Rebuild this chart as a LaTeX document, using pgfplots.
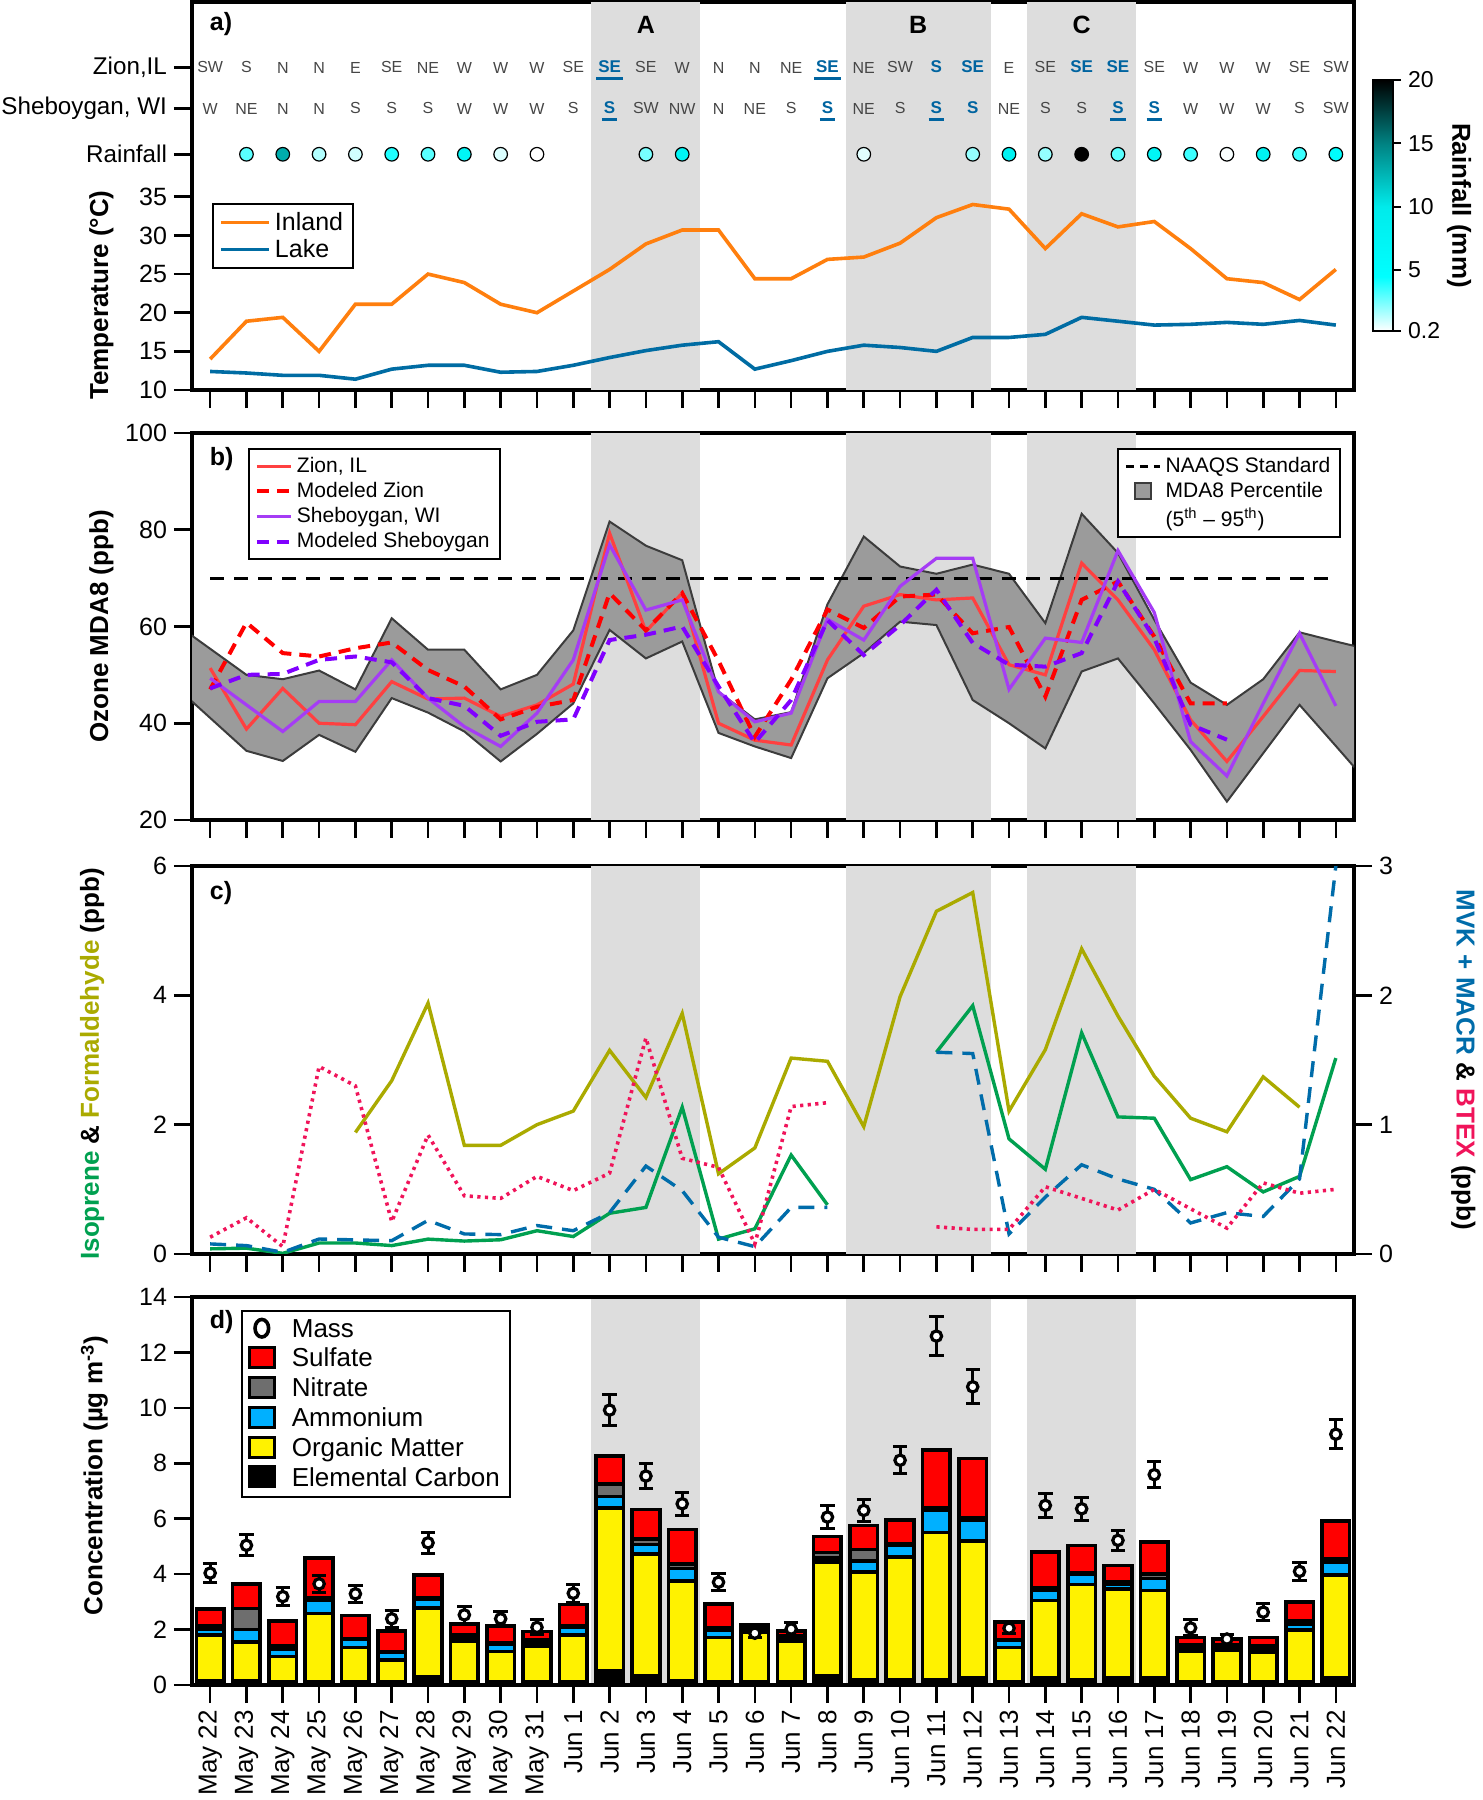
\documentclass[border=0pt]{standalone}
\usepackage{fontspec}
\setmainfont{Liberation Sans}
\usepackage{pgfplots}
\usepackage{pgfplotstable}
\pgfplotsset{compat=1.18}

\definecolor{shadecol}{RGB}{221,221,221}
\definecolor{inland}{RGB}{255,127,14}
\definecolor{lake}{RGB}{0,108,163}
\definecolor{zion}{RGB}{255,64,64}
\definecolor{mzion}{RGB}{255,0,0}
\definecolor{sheb}{RGB}{165,60,245}
\definecolor{msheb}{RGB}{128,0,255}
\definecolor{form}{RGB}{170,170,0}
\definecolor{iso}{RGB}{0,160,80}
\definecolor{mvk}{RGB}{0,108,170}
\definecolor{btex}{RGB}{240,20,90}
\definecolor{windgray}{RGB}{70,70,70}
\definecolor{windblue}{RGB}{0,100,160}
\definecolor{band}{RGB}{155,155,155}
\definecolor{bandedge}{RGB}{60,60,60}
\definecolor{amm}{RGB}{0,176,255}
\definecolor{nit}{RGB}{110,110,110}

\newsavebox\windbox
\NewDocumentCommand\windul{m}{\sbox\windbox{\bfseries #1}\rlap{\kern-1pt\raisebox{-3.4pt}[0pt][0pt]{\rule{\dimexpr\wd\windbox+2pt\relax}{1.3pt}}}\usebox\windbox}
\NewDocumentCommand\windb{m}{\textbf{#1}}

\pgfplotsset{
  panel/.style={
    scale only axis, width=581pt, height=194pt,
    xmin=-0.5, xmax=31.5, xtick={0,...,31}, xticklabels={},
    tick pos=left, tick align=outside, major tick length=9pt,
    tick style={line width=1.3pt, black},
    axis line style={line width=1.8pt},
    tick label style={font=\fontsize{12.5}{14}\selectfont},
    /pgf/number format/assume math mode=true,
    label style={font=\bfseries\fontsize{13}{15}\selectfont},
  },
  sqlegend/.style={legend image code/.code={\draw[##1] (0.3cm,-0.15cm) rectangle (0.74cm,0.2cm);}},
  masslegend/.style={legend image code/.code={\draw[black, line width=1.8pt] (0.52cm,0.025cm) ellipse (3.4pt and 4.4pt);}},
  longline/.style={legend image code/.code={\draw[##1] (0cm,0cm) -- (0.85cm,0cm);}},
  windnormal/.style={only marks, mark=none, forget plot, nodes near coords, point meta=explicit symbolic,
    every node near coord/.append style={font=\fontsize{8}{9}\selectfont, text=windgray, inner sep=0pt}},
  windhigh/.style={only marks, mark=none, forget plot, nodes near coords, point meta=explicit symbolic,
    every node near coord/.append style={font=\bfseries\fontsize{8.5}{9}\selectfont, text=windblue, inner sep=0pt}},
}

\pgfplotstableread{
x ec om amm nit sul
0 .15 1.65 .23 .10 .62
1 .15 1.40 .46 .75 .89
2 .12 .91 .28 .10 .89
3 .12 2.46 .48 .10 1.43
4 .12 1.23 .29 .04 .83
5 .12 .79 .28 .01 .74
6 .28 2.50 .31 .07 .80
7 .12 1.46 .12 .10 .40
8 .12 1.09 .28 .04 .59
9 .12 1.28 .12 .10 .31
10 .12 1.68 .29 .04 .77
11 .50 5.88 .42 .45 1.02
12 .33 4.39 .35 .20 1.06
13 .15 3.60 .45 .16 1.25
14 .12 1.60 .25 .10 .86
15 .12 1.80 .10 .10 .05
16 .12 1.46 .10 .10 .18
17 .35 4.08 .15 .20 .58
18 .20 3.87 .40 .42 .87
19 .20 4.42 .43 .04 .87
20 .20 5.30 .81 .10 2.06
21 .25 4.95 .75 .10 2.12
22 .12 1.24 .25 .02 .64
23 .25 2.80 .37 .10 1.28
24 .20 3.42 .37 .05 1.00
25 .25 3.22 .15 .12 .57
26 .25 3.16 .43 .16 1.16
27 .12 1.10 .12 .10 .28
28 .12 1.14 .10 .10 .20
29 .12 1.08 .12 .10 .30
30 .12 1.86 .23 .11 .67
31 .25 3.73 .46 .13 1.35
}\pmdata

\pgfplotstableread{
x m e
0 4.04 .33
1 5.04 .38
2 3.19 .32
3 3.65 .30
4 3.29 .30
5 2.39 .30
6 5.13 .37
7 2.53 .30
8 2.39 .27
9 2.08 .27
10 3.31 .32
11 9.92 .55
12 7.54 .46
13 6.54 .42
14 3.71 .31
15 1.87 .15
16 2.02 .25
17 6.06 .41
18 6.30 .41
19 8.11 .49
20 12.59 .69
21 10.76 .61
22 2.05 .20
23 6.48 .43
24 6.36 .41
25 5.22 .37
26 7.59 .46
27 2.06 .29
28 1.66 .18
29 2.63 .30
30 4.10 .33
31 9.05 .52
}\massdata

\begin{document}
\begin{tikzpicture}
\useasboundingbox (0,0) rectangle (741.5pt,-900pt);

% ---------------- Panel a ----------------
\begin{axis}[panel, at={(96pt,-1pt)}, anchor=north west, height=194pt,
  ymin=10, ymax=60.2, ytick={10,15,20,25,30,35},
  extra y ticks={40.5,46.4,51.7},
  extra y tick labels={Rainfall,{Sheboygan, WI},{Zion,IL}},
  extra y tick style={tick label style={font=\fontsize{12.1}{13}\selectfont}},
  ylabel={Temperature (°C)},
  ylabel style={at={(axis description cs:-0.078,0.245)}, anchor=center},
  colormap={rain}{rgb255(0pt)=(255,255,255) rgb255(43pt)=(0,255,255) rgb255(98pt)=(0,235,235) rgb255(148pt)=(0,130,130) rgb255(198pt)=(0,0,0)},
  point meta min=0.2, point meta max=20,
  colorbar,
  colorbar style={at={(parent axis.north east)}, anchor=north west, xshift=1pt, yshift=-39pt,
    width=10pt, height=125.5pt, ytick={0.2,5,10,15,20}, yticklabels={0.2,5,10,15,20},
    ytick pos=right, tick align=outside, major tick length=4pt,
    tick style={line width=1pt, black}, axis line style={line width=1pt},
    tick label style={font=\fontsize{11.5}{13}\selectfont},
    /pgf/number format/assume math mode=true,
    ylabel={Rainfall (mm)},
    ylabel style={at={(axis description cs:4.3,0.5)}, anchor=center, rotate=180, font=\bfseries\fontsize{13}{15}\selectfont}},
  legend cell align=left,
  legend style={at={(0.0172,0.482)}, anchor=north west, draw=black, line width=1pt, font=\fontsize{12.5}{14}\selectfont, row sep=-1pt},
]
\fill[shadecol] (axis cs:10.5,10) rectangle (axis cs:13.5,60.2);
\fill[shadecol] (axis cs:17.5,10) rectangle (axis cs:21.5,60.2);
\fill[shadecol] (axis cs:22.5,10) rectangle (axis cs:25.5,60.2);
\node[font=\bfseries\fontsize{12.5}{14}\selectfont] at (axis cs:12,57.3) {A};
\node[font=\bfseries\fontsize{12.5}{14}\selectfont] at (axis cs:19.5,57.3) {B};
\node[font=\bfseries\fontsize{12.5}{14}\selectfont] at (axis cs:24,57.3) {C};
\node[font=\bfseries\fontsize{12.5}{14}\selectfont, anchor=west] at (axis cs:-0.2,57.3) {a)};

\addplot[inland, line width=1.8pt, longline] coordinates {
(0,14.0)(1,18.9)(2,19.4)(3,15.0)(4,21.1)(5,21.1)(6,25.0)(7,23.9)(8,21.1)(9,20.0)(10,22.8)(11,25.6)(12,28.9)(13,30.7)(14,30.7)(15,24.4)(16,24.4)(17,26.9)(18,27.2)(19,29.0)(20,32.3)(21,34.0)(22,33.4)(23,28.3)(24,32.8)(25,31.1)(26,31.8)(27,28.3)(28,24.4)(29,23.9)(30,21.7)(31,25.6)};
\addlegendentry{Inland}
\addplot[lake, line width=1.8pt, longline] coordinates {
(0,12.4)(1,12.2)(2,11.9)(3,11.9)(4,11.4)(5,12.7)(6,13.2)(7,13.2)(8,12.3)(9,12.4)(10,13.2)(11,14.2)(12,15.1)(13,15.8)(14,16.25)(15,12.7)(16,13.8)(17,15.0)(18,15.8)(19,15.5)(20,15.0)(21,16.8)(22,16.8)(23,17.2)(24,19.4)(25,18.9)(26,18.4)(27,18.5)(28,18.75)(29,18.5)(30,19.0)(31,18.4)};
\addlegendentry{Lake}

% wind directions Zion
\addplot[windnormal] coordinates {
(0,50.95)[SW](1,50.95)[S](2,50.95)[N](3,50.95)[N](4,50.95)[E](5,50.95)[SE](6,50.95)[NE](7,50.95)[W](8,50.95)[W](9,50.95)[W](10,50.95)[SE](12,50.95)[SE](13,50.95)[W](14,50.95)[N](15,50.95)[N](16,50.95)[NE](18,50.95)[NE](19,50.95)[SW](22,50.95)[E](23,50.95)[SE](26,50.95)[SE](27,50.95)[W](28,50.95)[W](29,50.95)[W](30,50.95)[SE](31,50.95)[SW]};
\addplot[windhigh] coordinates {
(11,50.95)[\windul{SE}](17,50.95)[\windul{SE}](20,50.95)[\windb{S}](21,50.95)[\windb{SE}](24,50.95)[\windb{SE}](25,50.95)[\windb{SE}]};
% wind directions Sheboygan
\addplot[windnormal] coordinates {
(0,45.65)[W](1,45.65)[NE](2,45.65)[N](3,45.65)[N](4,45.65)[S](5,45.65)[S](6,45.65)[S](7,45.65)[W](8,45.65)[W](9,45.65)[W](10,45.65)[S](12,45.65)[SW](13,45.65)[NW](14,45.65)[N](15,45.65)[NE](16,45.65)[S](18,45.65)[NE](19,45.65)[S](22,45.65)[NE](23,45.65)[S](24,45.65)[S](27,45.65)[W](28,45.65)[W](29,45.65)[W](30,45.65)[S](31,45.65)[SW]};
\addplot[windhigh] coordinates {
(11,45.65)[\windul{S}](17,45.65)[\windul{S}](20,45.65)[\windul{S}](21,45.65)[\windb{S}](25,45.65)[\windul{S}](26,45.65)[\windul{S}]};
% rainfall
\addplot[scatter, only marks, forget plot, mark=*, mark size=3.4pt, point meta=explicit,
  scatter/use mapped color={draw=black, fill=mapped color}, mark options={line width=0.6pt}] coordinates {
(1,40.5)[3](2,40.5)[13](3,40.5)[1.5](4,40.5)[1](5,40.5)[4](6,40.5)[3](7,40.5)[7](8,40.5)[0.8](9,40.5)[0.2](12,40.5)[2.5](13,40.5)[7](18,40.5)[0.7](21,40.5)[2](22,40.5)[8](23,40.5)[2](24,40.5)[20](25,40.5)[3](26,40.5)[7](27,40.5)[3.5](28,40.5)[0.3](29,40.5)[8](30,40.5)[3.5](31,40.5)[5]};
\end{axis}

% ---------------- Panel b ----------------
\begin{axis}[panel, at={(96pt,-216.5pt)}, anchor=north west, height=193.5pt,
  ymin=20, ymax=100, ytick={20,40,60,80,100},
  ylabel={Ozone MDA8 (ppb)},
  ylabel style={at={(axis description cs:-0.078,0.5)}, anchor=center},
  legend cell align=left,
  legend style={at={(0.048,0.961)}, anchor=north west, draw=black, line width=1pt, font=\fontsize{10.5}{12}\selectfont, row sep=-0.5pt},
]
\fill[shadecol] (axis cs:10.5,20) rectangle (axis cs:13.5,100);
\fill[shadecol] (axis cs:17.5,20) rectangle (axis cs:21.5,100);
\fill[shadecol] (axis cs:22.5,20) rectangle (axis cs:25.5,100);
\node[font=\bfseries\fontsize{12.5}{14}\selectfont, anchor=west] at (axis cs:-0.2,94.6) {b)};
\addplot[fill=band, draw=bandedge, line width=1pt, forget plot] coordinates {
(-1,60.8)(0,55.4)(1,50.0)(2,49.1)(3,50.9)(4,47.0)(5,61.7)(6,55.2)(7,55.2)(8,47.0)(9,50.0)(10,59.2)(11,81.7)(12,76.7)(13,73.7)(14,46.5)(15,40.8)(16,42.3)(17,64.6)(18,78.6)(19,72.4)(20,70.9)(21,72.8)(22,70.9)(23,60.7)(24,83.3)(25,75.2)(26,61.4)(27,48.4)(28,43.8)(29,49.1)(30,58.8)(31,56.9)(32,55.1)
(32,26.7)(31,35.3)(30,43.8)(29,33.8)(28,23.8)(27,34.5)(26,44.1)(25,53.4)(24,50.7)(23,34.8)(22,40.0)(21,44.8)(20,60.3)(19,61.0)(18,54.5)(17,49.3)(16,32.8)(15,35.2)(14,38.0)(13,56.9)(12,53.4)(11,59.3)(10,44.1)(9,37.8)(8,32.1)(7,38.3)(6,42.2)(5,45.2)(4,34.1)(3,37.6)(2,32.2)(1,34.3)(0,41.1)(-1,47.9)} --cycle;
\addplot[black, line width=1.5pt, dash pattern=on 7pt off 5pt, forget plot] coordinates {(0,70)(31,70)};
\addplot[zion, line width=1.6pt] coordinates {
(0,51.4)(1,38.8)(2,47.2)(3,40.0)(4,39.7)(5,48.6)(6,45.0)(7,45.2)(8,41.4)(9,43.8)(10,48.1)(11,79.3)(12,59.0)(13,66.9)(14,40.0)(15,36.5)(16,35.5)(17,53.1)(18,64.2)(19,66.6)(20,65.5)(21,65.9)(22,52.1)(23,50.0)(24,73.1)(25,65.5)(26,55.2)(27,40.7)(28,32.1)(29,41.4)(30,50.9)(31,50.7)};
\addlegendentry{Zion, IL}
\addplot[mzion, line width=2pt, dash pattern=on 6pt off 4pt] coordinates {
(0,47.0)(1,60.8)(2,54.5)(3,53.8)(4,55.5)(5,56.7)(6,51.0)(7,47.6)(8,40.8)(9,43.4)(10,44.8)(11,66.9)(12,59.2)(13,66.9)(14,52.9)(15,37.2)(16,49.0)(17,63.5)(18,59.7)(19,66.2)(20,66.6)(21,58.6)(22,59.9)(23,45.5)(24,65.5)(25,69.3)(26,57.9)(27,44.1)(28,44.1)};
\addlegendentry{Modeled Zion}
\addplot[sheb, line width=1.6pt] coordinates {
(0,49.3)(1,43.8)(2,38.3)(3,44.5)(4,44.5)(5,53.1)(6,45.2)(7,39.3)(8,35.2)(9,42.1)(10,53.1)(11,76.9)(12,63.4)(13,65.5)(14,46.5)(15,40.3)(16,42.1)(17,61.5)(18,57.2)(19,68.3)(20,74.1)(21,74.1)(22,47.0)(23,57.6)(24,56.7)(25,75.7)(26,62.9)(27,36.2)(28,29.1)(29,44.1)(30,58.6)(31,43.6)};
\addlegendentry{Sheboygan, WI}
\addplot[msheb, line width=2pt, dash pattern=on 6pt off 4pt] coordinates {
(0,47.2)(1,50.0)(2,50.2)(3,53.1)(4,53.8)(5,52.6)(6,45.2)(7,43.6)(8,37.4)(9,40.3)(10,40.8)(11,57.2)(12,58.3)(13,60.0)(14,47.6)(15,36.0)(16,44.8)(17,61.3)(18,54.1)(19,60.3)(20,67.6)(21,56.6)(22,52.1)(23,51.7)(24,54.5)(25,69.3)(26,57.6)(27,39.7)(28,36.6)};
\addlegendentry{Modeled Sheboygan}
\end{axis}
% second legend of panel b
\begin{axis}[panel, at={(96pt,-216.5pt)}, anchor=north west, height=193.5pt,
  ymin=20, ymax=100, hide axis,
  legend cell align=left,
  legend style={at={(0.989,0.961)}, anchor=north east, draw=black, line width=1pt, fill=white, font=\fontsize{10.5}{12}\selectfont, row sep=-0.5pt},
]
\addplot[draw=none, forget plot] coordinates {(0,0)};
\addlegendimage{black, line width=1.5pt, dash pattern=on 4pt off 3pt}
\addlegendentry{NAAQS Standard}
\addlegendimage{legend image code/.code={\draw[fill=band, draw=bandedge, line width=1pt] (0.16cm,-0.13cm) rectangle (0.44cm,0.15cm);}}
\addlegendentry{MDA8 Percentile}
\addlegendimage{empty legend}
\addlegendentry{(5\textsuperscript{th} – 95\textsuperscript{th})}
\end{axis}

% ---------------- Panel c ----------------
\begin{axis}[panel, at={(96pt,-433pt)}, anchor=north west, height=194pt,
  ymin=0, ymax=6, ytick={0,2,4,6}, ytick pos=left,
  unbounded coords=jump,
  ylabel={{\color{iso}Isoprene} \& {\color{form}Formaldehyde} (ppb)},
  ylabel style={at={(axis description cs:-0.086,0.49)}, anchor=center},
]
\fill[shadecol] (axis cs:10.5,0) rectangle (axis cs:13.5,6);
\fill[shadecol] (axis cs:17.5,0) rectangle (axis cs:21.5,6);
\fill[shadecol] (axis cs:22.5,0) rectangle (axis cs:25.5,6);
\node[font=\bfseries\fontsize{12.5}{14}\selectfont, anchor=west] at (axis cs:-0.2,5.58) {c)};
\addplot[form, line width=1.7pt] coordinates {
(4,1.88)(5,2.68)(6,3.88)(7,1.68)(8,1.68)(9,2.0)(10,2.21)(11,3.15)(12,2.42)(13,3.72)(14,1.24)(15,1.64)(16,3.03)(17,2.98)(18,1.97)(19,3.98)(20,5.30)(21,5.59)(22,2.21)(23,3.16)(24,4.72)(25,3.68)(26,2.75)(27,2.10)(28,1.89)(29,2.74)(30,2.27)};
\addplot[iso, line width=1.7pt] coordinates {
(0,0.08)(1,0.09)(2,0.01)(3,0.17)(4,0.17)(5,0.13)(6,0.23)(7,0.20)(8,0.22)(9,0.36)(10,0.27)(11,0.63)(12,0.72)(13,2.27)(14,0.23)(15,0.39)(16,1.53)(17,0.76)(18,nan)(19,nan)(20,3.12)(21,3.84)(22,1.78)(23,1.31)(24,3.42)(25,2.12)(26,2.10)(27,1.15)(28,1.35)(29,0.96)(30,1.20)(31,3.03)};
\end{axis}
\begin{axis}[panel, at={(96pt,-433pt)}, anchor=north west, height=194pt,
  ymin=0, ymax=3, ytick={0,1,2,3},
  axis x line=none, axis y line*=right, ytick pos=right,
  unbounded coords=jump,
  ylabel={{\color{mvk}MVK + MACR} \& {\color{btex}BTEX} (ppb)},
  ylabel style={at={(axis description cs:1.094,0.5)}, anchor=center, rotate=180},
]
\addplot[mvk, line width=1.7pt, dash pattern=on 8pt off 5pt] coordinates {
(0,0.078)(1,0.065)(2,0.013)(3,0.116)(4,0.109)(5,0.103)(6,0.26)(7,0.155)(8,0.15)(9,0.22)(10,0.18)(11,0.32)(12,0.68)(13,0.49)(14,0.13)(15,0.057)(16,0.36)(17,0.36)(18,nan)(19,nan)(20,1.56)(21,1.55)(22,0.155)(23,0.44)(24,0.69)(25,0.58)(26,0.50)(27,0.24)(28,0.32)(29,0.29)(30,0.58)(31,3.0)};
\addplot[btex, line width=1.8pt, dash pattern=on 1.6pt off 2.2pt] coordinates {
(0,0.13)(1,0.28)(2,0.057)(3,1.45)(4,1.30)(5,0.25)(6,0.92)(7,0.45)(8,0.43)(9,0.60)(10,0.49)(11,0.625)(12,1.67)(13,0.74)(14,0.67)(15,0.078)(16,1.14)(17,1.17)(18,nan)(19,nan)(20,0.21)(21,0.19)(22,0.19)(23,0.52)(24,0.43)(25,0.34)(26,0.50)(27,0.35)(28,0.20)(29,0.55)(30,0.47)(31,0.50)};
\end{axis}

% ---------------- Panel d ----------------
% background shading
\begin{axis}[panel, at={(96pt,-648.5pt)}, anchor=north west, height=194pt,
  ymin=0, ymax=14, hide axis]
\addplot[draw=none, forget plot] coordinates {(0,0)};
\fill[shadecol] (axis cs:10.5,0) rectangle (axis cs:13.5,14);
\fill[shadecol] (axis cs:17.5,0) rectangle (axis cs:21.5,14);
\fill[shadecol] (axis cs:22.5,0) rectangle (axis cs:25.5,14);
\end{axis}
\begin{axis}[panel, at={(96pt,-648.5pt)}, anchor=north west, height=194pt,
  ymin=0, ymax=14, ytick={0,2,4,6,8,10,12,14},
  ybar stacked, bar width=13.8pt,
  xticklabels={May 22,May 23,May 24,May 25,May 26,May 27,May 28,May 29,May 30,May 31,Jun 1,Jun 2,Jun 3,Jun 4,Jun 5,Jun 6,Jun 7,Jun 8,Jun 9,Jun 10,Jun 11,Jun 12,Jun 13,Jun 14,Jun 15,Jun 16,Jun 17,Jun 18,Jun 19,Jun 20,Jun 21,Jun 22},
  xticklabel style={rotate=90, anchor=east, font=\fontsize{13}{14}\selectfont},
  ylabel={Concentration (µg m\textsuperscript{-3})},
  ylabel style={at={(axis description cs:-0.084,0.54)}, anchor=center},
  legend cell align=left,
  legend style={at={(0.042,0.966)}, anchor=north west, draw=black, line width=1pt, font=\fontsize{13}{15}\selectfont, row sep=0pt,
    /tikz/every odd column/.append style={column sep=6pt}},
  legend entries={Mass,Sulfate,Nitrate,Ammonium,Organic Matter,Elemental Carbon},
]
\addlegendimage{masslegend}
\addlegendimage{sqlegend, fill=red, draw=black, line width=1.5pt}
\addlegendimage{sqlegend, fill=nit, draw=black, line width=1.5pt}
\addlegendimage{sqlegend, fill=amm, draw=black, line width=1.5pt}
\addlegendimage{sqlegend, fill=yellow, draw=black, line width=1.5pt}
\addlegendimage{sqlegend, fill=black, draw=black, line width=1.5pt}
\node[font=\bfseries\fontsize{12.5}{14}\selectfont, anchor=west] at (axis cs:-0.2,13.1) {d)};
\addplot[fill=black, draw=black, line width=1.8pt] table[x=x, y=ec] {\pmdata};
\addplot[fill=yellow, draw=black, line width=1.8pt] table[x=x, y=om] {\pmdata};
\addplot[fill=amm, draw=black, line width=1.8pt] table[x=x, y=amm] {\pmdata};
\addplot[fill=nit, draw=black, line width=1.8pt] table[x=x, y=nit] {\pmdata};
\addplot[fill=red, draw=black, line width=1.8pt] table[x=x, y=sul] {\pmdata};
\end{axis}
\begin{axis}[panel, at={(96pt,-648.5pt)}, anchor=north west, height=194pt,
  ymin=0, ymax=14, hide axis]
\addplot[black, only marks, mark=*, mark size=2.6pt, mark options={line width=1.6pt, fill=white, draw=black},
  error bars/.cd, y dir=both, y explicit,
  error bar style={line width=1.5pt, black},
  error mark options={rotate=90, mark size=3.6pt, line width=1.5pt, black}]
  table[x=x, y=m, y error=e] {\massdata};
\end{axis}
\end{tikzpicture}
\end{document}
